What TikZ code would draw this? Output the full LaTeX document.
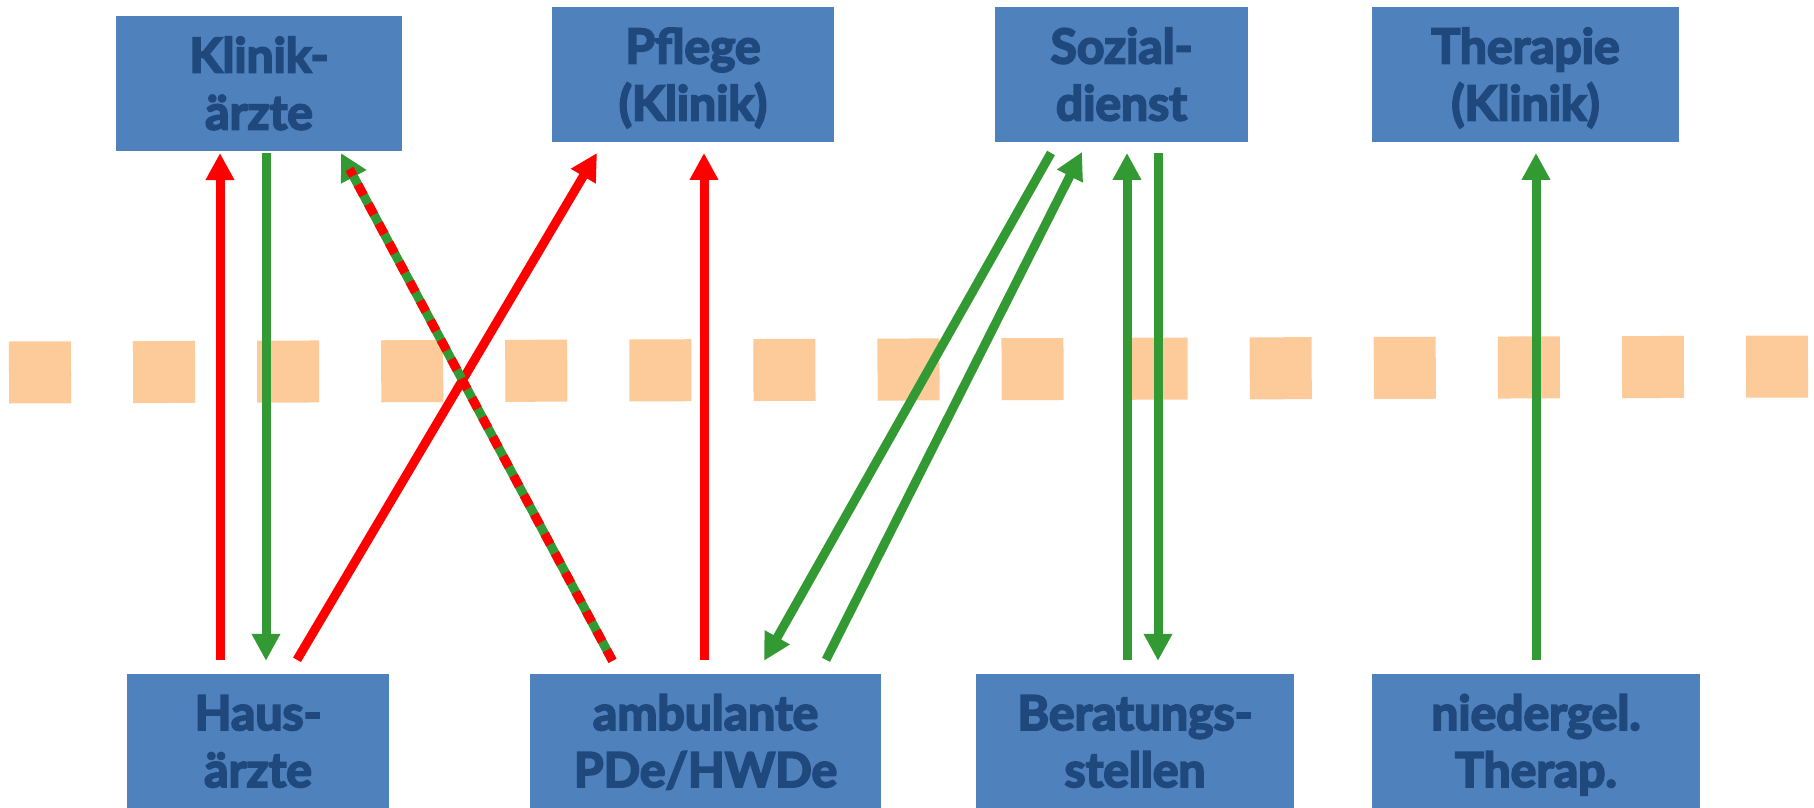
\documentclass[tikz,border=0pt]{standalone}
\usepackage{fontspec}
\setmainfont{Lato}[BoldFeatures={FakeBold=4}]
\usetikzlibrary{arrows.meta,positioning,calc}
\definecolor{boxblue}{HTML}{4F81BD}
\definecolor{txtblue}{HTML}{1F497D}
\definecolor{arrgreen}{HTML}{339933}
\definecolor{arrred}{HTML}{FF0000}
\definecolor{peach}{HTML}{FCCB99}

\begin{document}
\begin{tikzpicture}[x=1pt,y=-1pt,>={Triangle[length=27pt,width=27pt]},box/.style={fill=boxblue,text=txtblue,inner sep=0pt,align=center,minimum height=134.7pt,text height=104pt,text depth=12pt,font=\fontsize{48}{57}\selectfont\bfseries},redarr/.style={->,color=arrred,line width=9pt},greenarr/.style={->,color=arrgreen,line width=9pt},mixarr/.style={greenarr,postaction={draw=arrred,-,dash pattern=on 12pt off 10pt,shorten >=18pt}}]
\useasboundingbox (0,0) rectangle (1814,808);
\draw[peach,line width=62pt,dash pattern=on 62pt off 62.07pt] (9,372.5) -- (1808,366.5);
\node[box,minimum width=286pt] (klinik) at (259,83.5) {Klinik-\\ärzte};
\node[box,minimum width=282pt] (pflege) at (693,74.4) {Pflege\\(Klinik)};
\node[box,minimum width=253pt] (sozial) at (1121.5,74.4) {Sozial-\\dienst};
\node[box,minimum width=307pt] (therapie) at (1525.5,74.4) {Therapie\\(Klinik)};
\node[box,minimum width=262pt,minimum height=134pt] (haus) at (258,741) {Haus-\\ärzte};
\node[box,minimum width=351pt,minimum height=134pt] (ambulant) at (705.5,741) {ambulante\\PDe/HWDe};
\node[box,minimum width=318pt,minimum height=134pt] (beratung) at (1135,741) {Beratungs-\\stellen};
\node[box,minimum width=328pt,minimum height=134pt] (niedergel) at (1536,741) {niedergel.\\Therap.};
\draw[redarr] ($(haus.north)+(-38,-14)$) -- ($(klinik.south)+(-39,2)$);
\draw[greenarr] ($(klinik.south)+(7,2)$) -- ($(haus.north)+(8,-13)$);
\draw[redarr] ($(haus.north)+(39,-14)$) -- ($(pflege.south)+(-96,11)$);
\draw[mixarr] ($(ambulant.north)+(-93,-13)$) -- ($(klinik.south)+(82,2)$);
\draw[redarr] ($(ambulant.north)+(-1.5,-14)$) -- ($(pflege.south)+(11,11)$);
\draw[greenarr] ($(sozial.south)+(-70.5,11)$) -- ($(ambulant.north)+(58.5,-13)$);
\draw[greenarr] ($(ambulant.north)+(120.5,-14)$) -- ($(sozial.south)+(-39.5,10)$);
\draw[greenarr] ($(beratung.north)+(-8,-14)$) -- ($(sozial.south)+(5.5,11)$);
\draw[greenarr] ($(sozial.south)+(36.5,11)$) -- ($(beratung.north)+(23,-13)$);
\draw[greenarr] ($(niedergel.north)+(0,-14)$) -- ($(therapie.south)+(10.5,11)$);
\end{tikzpicture}
\end{document}
